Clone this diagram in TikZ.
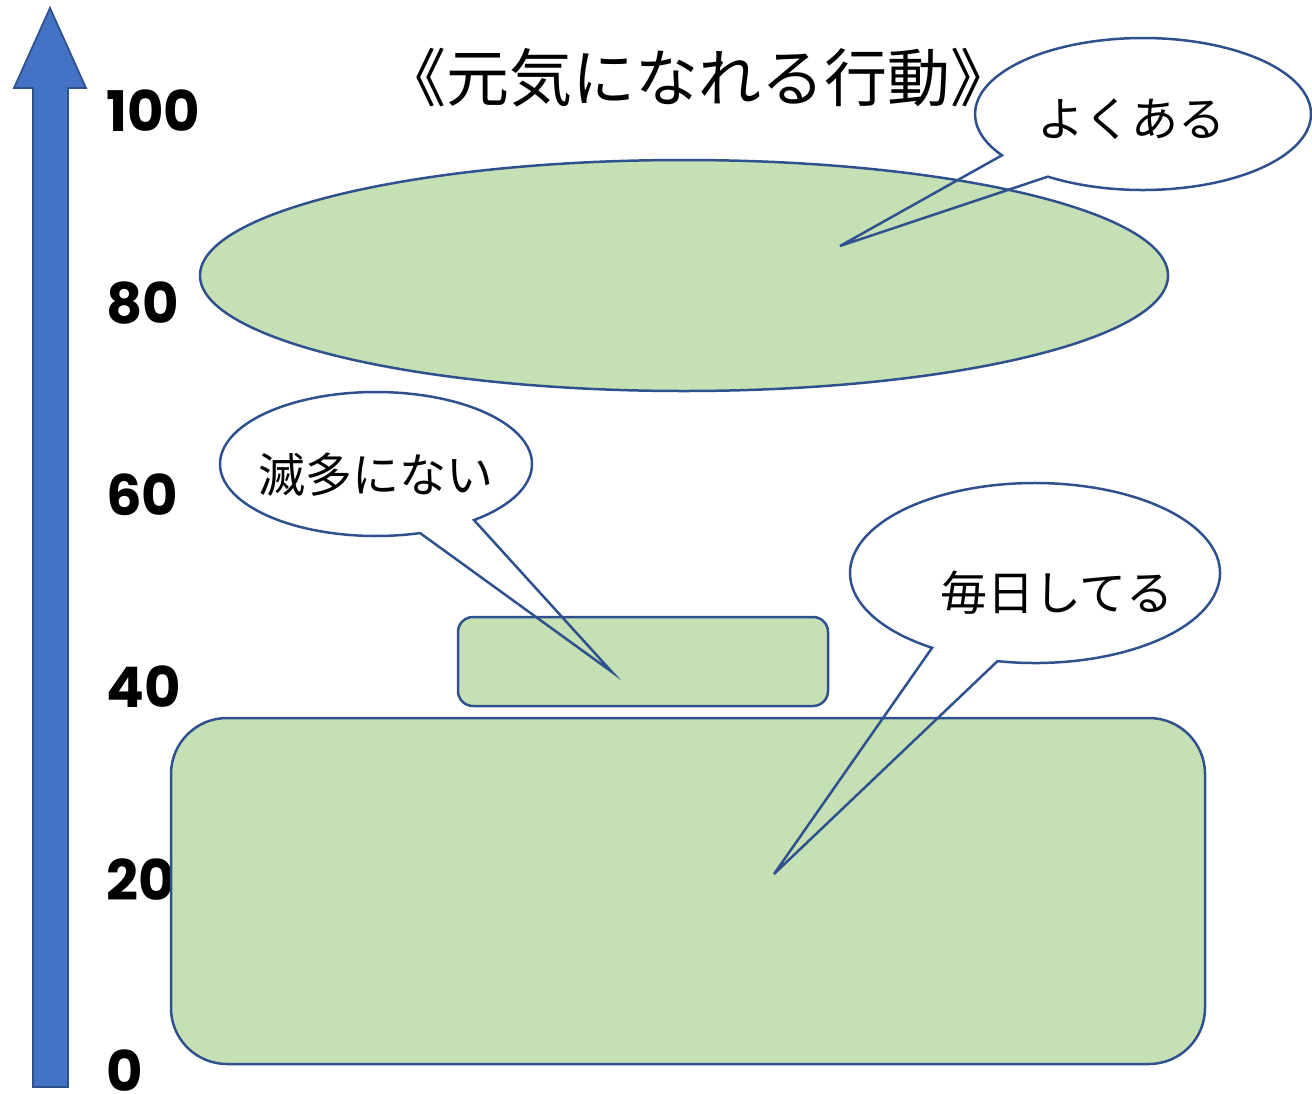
\documentclass[tikz,border=0pt]{standalone}
\usepackage{fontspec}
\setmainfont{Noto Sans CJK JP}
\newfontfamily\numfont{Poppins}
\definecolor{bordercol}{HTML}{2F528F}
\definecolor{greenfill}{HTML}{C5E0B4}
\definecolor{arrowfill}{HTML}{4472C4}
\begin{document}
\begin{tikzpicture}[x=1pt,y=-1pt]
\tikzset{
  arrowshape/.style={draw=bordercol, fill=arrowfill, line width=1.8pt, line join=miter},
  greenshape/.style={draw=bordercol, fill=greenfill, line width=2.5pt},
  calloutline/.style={draw=bordercol, line width=2.5pt, line join=miter},
  calltext/.style={font=\fontsize{47}{50}\selectfont, inner sep=0pt},
  titletext/.style={font=\fontsize{63}{66}\selectfont, inner sep=0pt},
  numlabel/.style={font=\numfont\bfseries\fontsize{56}{60}\selectfont, anchor=west, inner sep=0pt},
}
\useasboundingbox (0,0) rectangle (1312,1093);
\begin{scope}
\clip (0,0) rectangle (1312,1093);
% axis arrow
\draw[arrowshape] (33,1087) -- (33,88) -- (14,88) -- (50,8) -- (86,88) -- (68,88) -- (68,1087) -- cycle;
% scale labels
\node[numlabel] (n100) at (106,110.5) {100};
\node[numlabel] (n80)  at (106,302.7) {80};
\node[numlabel] (n60)  at (106,494.9) {60};
\node[numlabel] (n40)  at (106,687.1) {40};
\node[numlabel] (n20)  at (106,879.3) {20};
\node[numlabel] (n0)   at (106,1070.5) {0};
% title
\node[titletext] (title) at (698,78) {《元気になれる行動》};
% green shapes
\draw[greenshape] (684,275.5) ellipse [x radius=484, y radius=115.5];
\draw[greenshape, rounded corners=15pt] (458,617) rectangle (828,706);
\draw[greenshape, rounded corners=56pt] (171,718) rectangle (1205,1064);
% callout tips
\coordinate (tipA) at (840,246);
\coordinate (tipB) at (612,672);
\coordinate (tipC) at (774,874);
% callouts
\draw[calloutline] ({1143+168*cos(124.5)},{114+76*sin(124.5)})
  arc[start angle=124.5, end angle=-212.9, x radius=168, y radius=76] -- (tipA) -- cycle;
\draw[calloutline] ({376+156*cos(51.1)},{464+72*sin(51.1)})
  arc[start angle=51.1, end angle=-286.4, x radius=156, y radius=72] -- (tipB) -- cycle;
\draw[calloutline] ({1035+185*cos(101.7)},{573+90*sin(101.7)})
  arc[start angle=101.7, end angle=-236.2, x radius=185, y radius=90] -- (tipC) -- cycle;
% callout texts
\node[calltext] (tA) at (1131,119) {よくある};
\node[calltext] (tB) at (376,475) {滅多にない};
\node[calltext] (tC) at (1057,593) {毎日してる};
\end{scope}
\end{tikzpicture}
\end{document}
